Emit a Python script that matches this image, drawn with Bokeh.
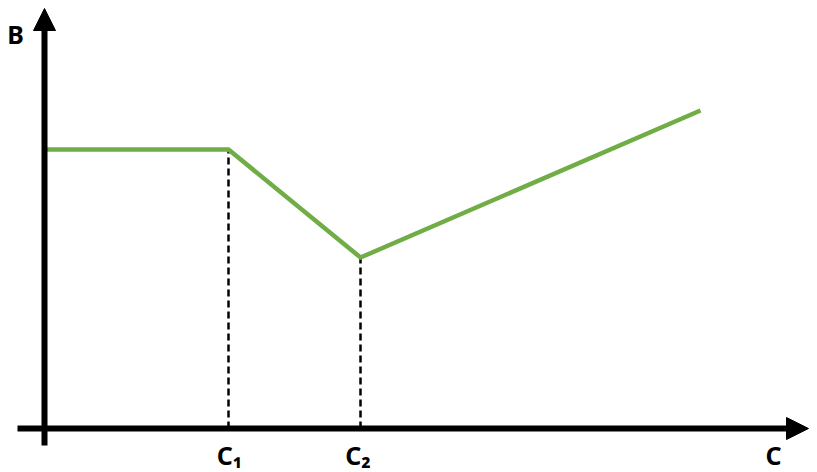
from bokeh.plotting import figure
from bokeh.models import Range1d, Arrow, NormalHead, Label
from bokeh.embed import file_html
from bokeh.resources import INLINE

# Data (chart units: 1 unit = 100 px)
curve_x = [0.0, 1.84, 3.16, 6.56]
curve_y = [2.79, 2.79, 1.71, 3.18]
C1 = curve_x[1]
C2 = curve_x[2]
drop_x = [C1, C2]
drop_top = [curve_y[1], curve_y[2]]
tick_labels = ["C\u2081", "C\u2082"]
x_label = "C"
y_label = "B"

W, H = 817, 472
p = figure(width=W, height=H, output_backend="svg", toolbar_location=None,
           x_range=Range1d(-0.44, 7.73), y_range=Range1d(-0.44, 4.28),
           min_border=0, outline_line_color=None)
p.axis.visible = False
p.grid.visible = False
p.background_fill_color = "white"
p.border_fill_color = "white"

# dashed drop lines
p.segment(x0=drop_x, y0=[0.0, 0.0], x1=drop_x, y1=drop_top,
          line_color="black", line_width=2.5, line_dash="7 4")

# curve
p.line(curve_x, curve_y, line_color="#70AD47", line_width=4.5, line_join="miter")

# axes with arrows
head_kw = dict(size=22, fill_color="black", line_color="black", line_width=1)
p.add_layout(Arrow(end=NormalHead(**head_kw), x_start=0.0, y_start=-0.17,
                   x_end=0.0, y_end=4.20, line_width=6, line_color="black"))
p.add_layout(Arrow(end=NormalHead(**head_kw), x_start=-0.27, y_start=0.0,
                   x_end=7.64, y_end=0.0, line_width=6, line_color="black"))

# labels
lab_kw = dict(text_font="Noto Sans", text_font_style="bold", text_font_size="25px",
              text_align="center", text_baseline="middle", text_color="black")
for xv, t in zip([C1 + 0.01, C2 - 0.025], tick_labels):
    p.add_layout(Label(x=xv, y=-0.26, text=t, **lab_kw))
p.add_layout(Label(x=7.29, y=-0.26, text=x_label, **lab_kw))
p.add_layout(Label(x=-0.29, y=3.95, text=y_label, **lab_kw))

open("out.html", "w").write(file_html(p, INLINE))
